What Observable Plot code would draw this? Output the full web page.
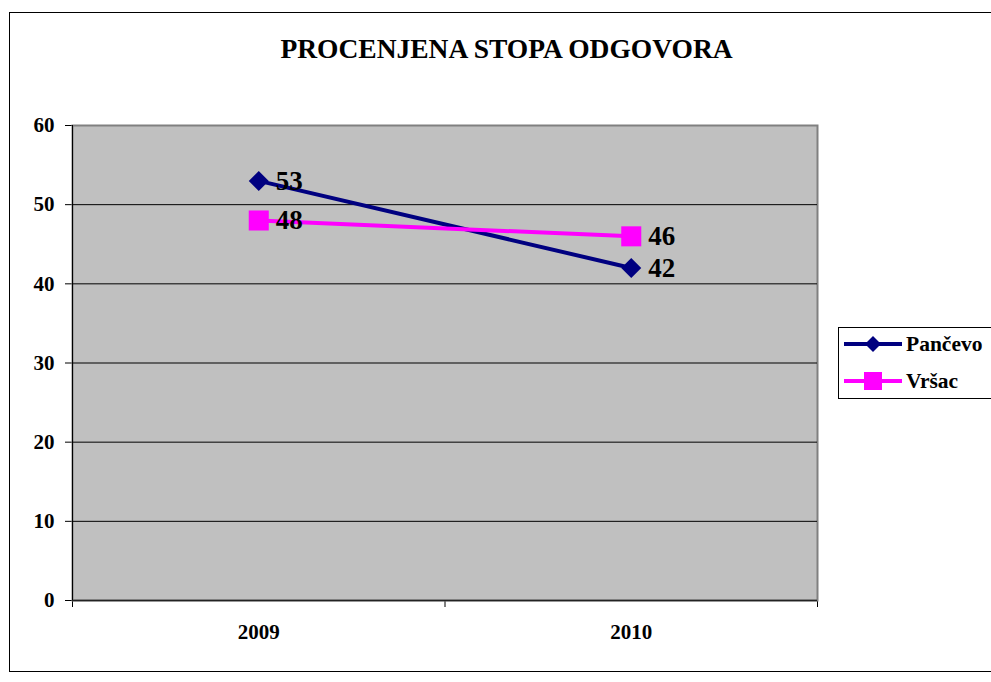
<!DOCTYPE html>
<html>
<head>
<meta charset="utf-8">
<script src="https://cdn.jsdelivr.net/npm/d3@7"></script>
<script src="https://cdn.jsdelivr.net/npm/@observablehq/plot@0.6"></script>
<style>
  html, body { margin: 0; padding: 0; background: white; overflow: hidden; }
  #wrap { position: relative; width: 991px; height: 682px; overflow: hidden; font-family: "Liberation Serif", "Times New Roman", serif; font-weight: bold; }
  #outer { position: absolute; left: 9px; top: 12px; width: 1000px; height: 660px; border: 1px solid black; box-sizing: border-box; }
  #title { position: absolute; left: 0px; width: 1013px; top: 35px; text-align: center; font-size: 27.5px; line-height: 27px; white-space: nowrap; }
  #chart { position: absolute; left: 0; top: 0; }
  #chart svg text { font-weight: bold; }
  #legend { position: absolute; left: 838px; top: 327px; width: 170px; height: 72px; border: 1px solid black; box-sizing: border-box; background: white; }
  .item { position: absolute; left: 5px; height: 22px; display: flex; align-items: center; font-size: 21.5px; }
  .item svg { margin-right: 4px; }
</style>
</head>
<body>
<div id="wrap">
  <div id="outer"></div>
  <div id="chart"></div>
  <div id="title"></div>
  <div id="legend"></div>
</div>
<script>
const titleText = "PROCENJENA STOPA ODGOVORA";
const categories = ["2009", "2010"];
const seriesNames = ["Pančevo", "Vršac"];
const pancevo = [53, 42];
const vrsac = [48, 46];
const yTicks = [0, 10, 20, 30, 40, 50, 60];
const colors = ["#000080", "#FF00FF"];
const symbols = ["diamond2", "square"];

const seriesValues = [pancevo, vrsac];
const data = [];
seriesNames.forEach((s, k) => {
  categories.forEach((c, i) => data.push({ i, cat: c, series: s, value: seriesValues[k][i] }));
});

document.getElementById("title").textContent = titleText;

const boundaries = d3.range(categories.length + 1).map(k => k - 0.5);

const chart = Plot.plot({
  width: 991,
  height: 682,
  marginLeft: 72,
  marginRight: 174,
  marginTop: 125,
  marginBottom: 82,
  style: { fontFamily: "'Liberation Serif', 'Times New Roman', serif", fontSize: "21px", background: "transparent", color: "black", overflow: "visible" },
  x: { domain: [-0.5, categories.length - 0.5], ticks: boundaries, tickFormat: () => "", tickSize: 7, label: null },
  y: { domain: [0, 60], ticks: yTicks, tickSize: 7, tickPadding: 11, label: null },
  color: { domain: seriesNames, range: colors },
  marks: [
    Plot.frame({ fill: "#c0c0c0", stroke: "#808080", strokeWidth: 2 }),
    Plot.ruleY(yTicks.filter(d => d > 0 && d < 60), { stroke: "black", strokeWidth: 1 }),
    Plot.ruleY([0], { stroke: "#222", strokeWidth: 1.5 }),
    Plot.ruleX([-0.5], { stroke: "black", strokeWidth: 1 }),
    Plot.line(data, { x: "i", y: "value", z: "series", stroke: "series", strokeWidth: 4 }),
    Plot.dot(data.filter(d => d.series === seriesNames[0]), { x: "i", y: "value", symbol: () => symbols[0], fill: "series", r: 9 }),
    Plot.dot(data.filter(d => d.series === seriesNames[1]), { x: "i", y: "value", symbol: () => symbols[1], fill: "series", r: 11.3 }),
    Plot.text(data, { x: "i", y: "value", text: d => String(d.value), dx: 17, textAnchor: "start", fontSize: 27, fill: "black" }),
    Plot.text(categories, { x: (d, i) => i, frameAnchor: "bottom", dy: 24, lineAnchor: "top", text: d => d, fontSize: 21, fill: "black" })
  ]
});
chart.setAttribute("font-weight", "bold");
document.getElementById("chart").appendChild(chart);

// legend
const legend = document.getElementById("legend");
seriesNames.forEach((s, k) => {
  const item = document.createElement("div");
  item.className = "item";
  item.style.top = (k === 0 ? 5 : 42) + "px";
  const marker = symbols[k] === "square"
    ? `<rect x="20" y="1" width="18" height="18" fill="${colors[k]}"/>`
    : `<path d="M29,2 L37,10 L29,18 L21,10 Z" fill="${colors[k]}"/>`;
  item.innerHTML = `<svg width="58" height="20"><line x1="0" x2="58" y1="10" y2="10" stroke="${colors[k]}" stroke-width="4"/>${marker}</svg><span>${s}</span>`;
  legend.appendChild(item);
});
</script>
</body>
</html>
